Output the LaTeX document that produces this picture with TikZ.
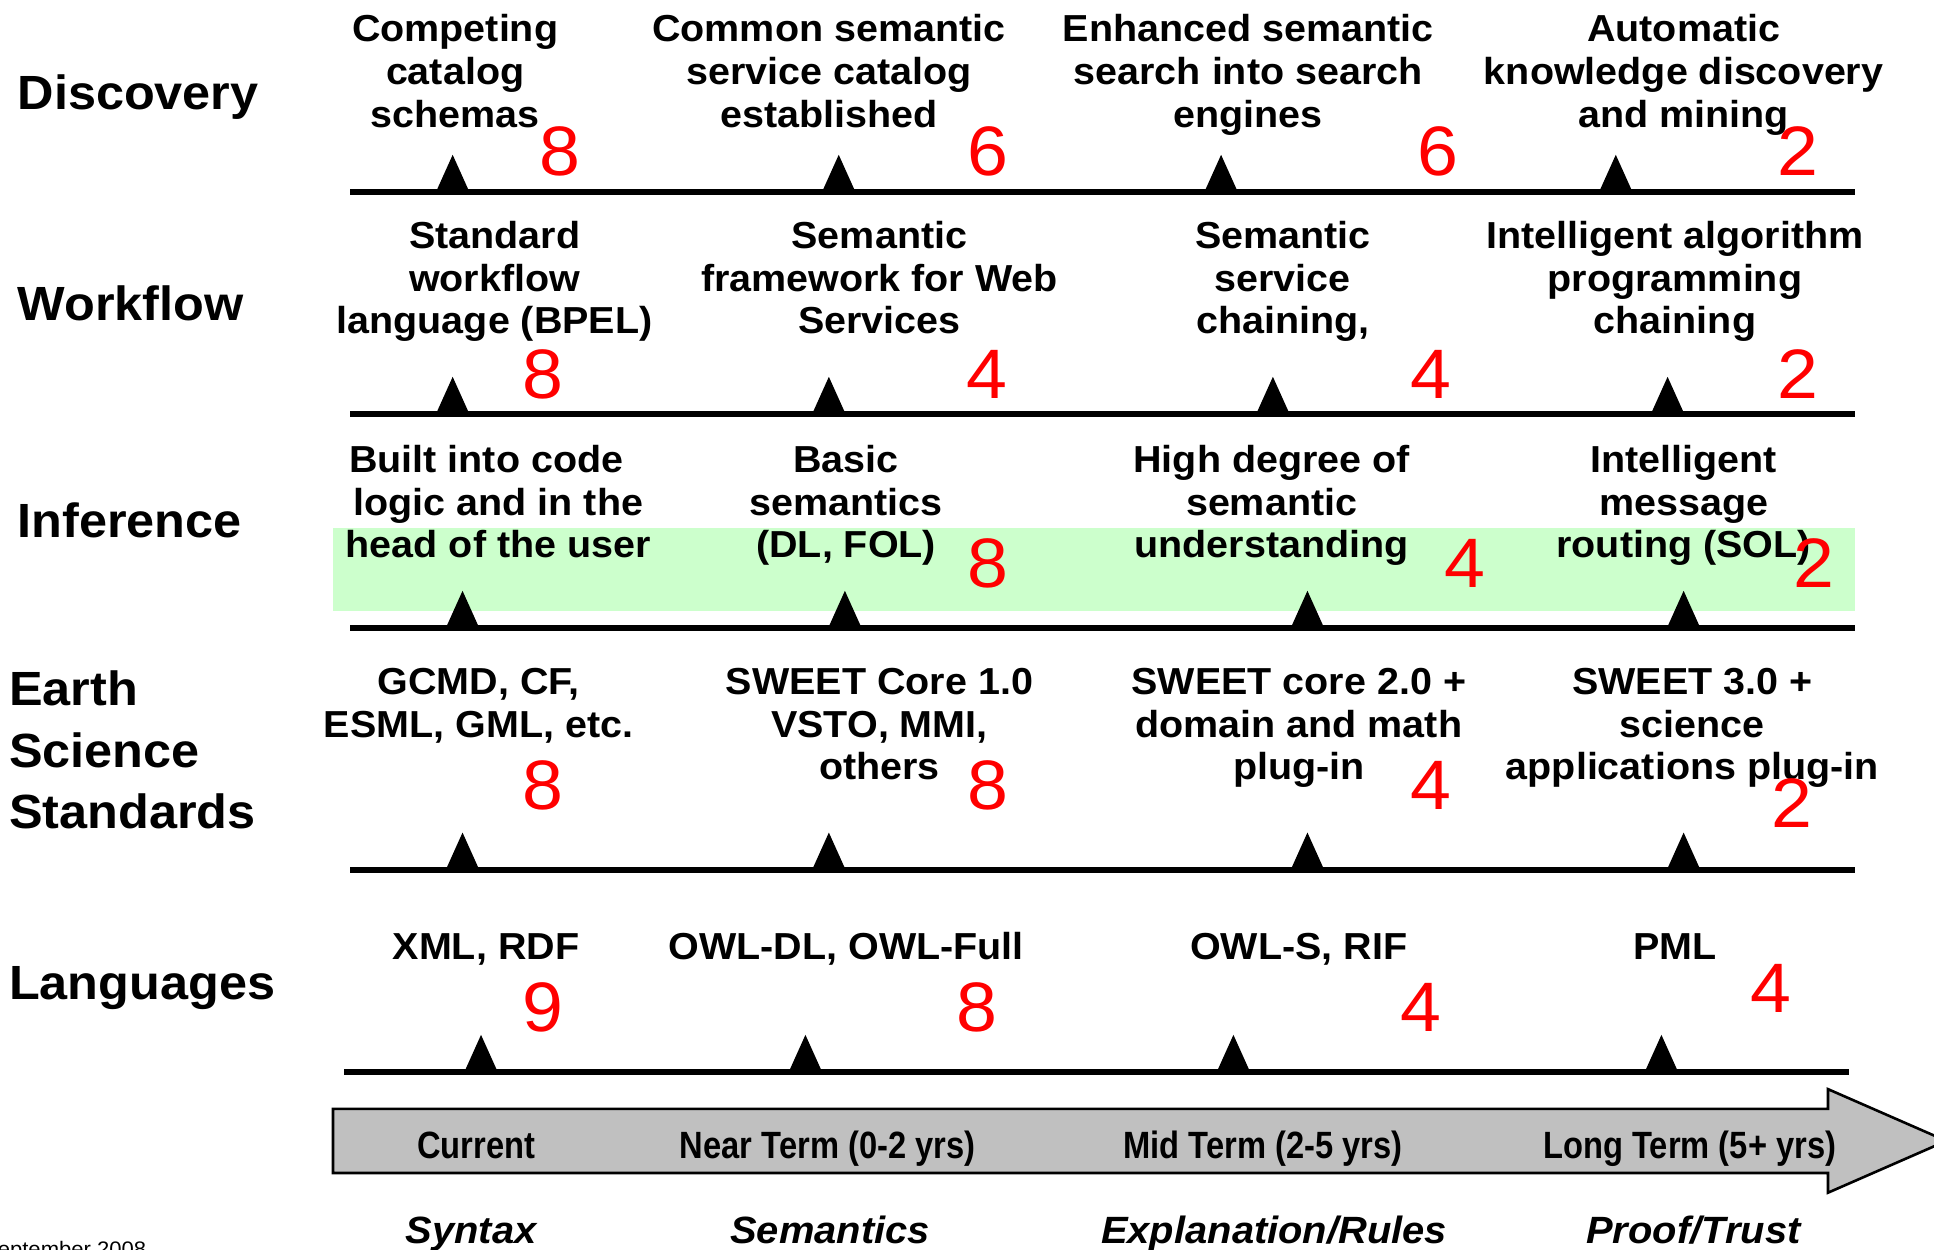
\documentclass[tikz,border=0pt]{standalone}
\usepackage{fontspec}
\setmainfont{Liberation Sans}[FakeStretch=1.05]
\newfontfamily\narrowfont{Liberation Sans}[FakeStretch=0.86]
\definecolor{bandgreen}{HTML}{CCFFCC}
\definecolor{arrowgray}{HTML}{C0C0C0}
\definecolor{scorered}{HTML}{FF0000}
\newcommand{\stack}[1]{\begin{tabular}[t]{@{}c@{}}#1\end{tabular}}
\newcommand{\lstack}[1]{\begin{tabular}[t]{@{}l@{}}#1\end{tabular}}
\tikzset{
  rowlabel/.style={anchor=base west, inner sep=0pt, font=\fontsize{24}{30.8}\selectfont\bfseries},
  milestone/.style={anchor=base, inner sep=0pt, font=\fontsize{18.8}{21.3}\selectfont\bfseries},
  score/.style={anchor=base, inner sep=0pt, text=scorered, font=\fontsize{35}{40}\selectfont},
  termlabel/.style={anchor=base, inner sep=0pt, font=\narrowfont\fontsize{19}{22}\selectfont\bfseries},
  layerlabel/.style={anchor=base, inner sep=0pt, font=\fontsize{19}{22}\selectfont\bfseries\itshape},
  footer/.style={anchor=base west, inner sep=0pt, font=\fontsize{10.5}{12}\selectfont},
  track/.style={line width=3pt},
  timearrow/.style={fill=arrowgray, draw=black, line width=1.3pt, line join=miter},
}
\begin{document}
\begin{tikzpicture}[x=0.6167pt, y=-0.6167pt]
\useasboundingbox (0,0) rectangle (1568,1013);
\clip (0,0) rectangle (1568,1013);

% highlighted inference band
\fill[bandgreen] (270,428) rectangle (1504,495);

% row labels
\node[rowlabel] (lDisc) at (14,89) {Discovery};
\node[rowlabel] (lWork) at (14,260) {Workflow};
\node[rowlabel] (lInf)  at (14,436) {Inference};
\node[rowlabel] (lStd)  at (7,572) {\lstack{Earth\\Science\\Standards}};
\node[rowlabel] (lLang) at (7,810) {Languages};

% discovery milestones
\node[milestone] (d1) at (369,34)  {\stack{Competing\\catalog\\schemas}};
\node[milestone] (d2) at (672,34)  {\stack{Common semantic\\service catalog\\established}};
\node[milestone] (d3) at (1012,34) {\stack{Enhanced semantic\\search into search\\engines}};
\node[milestone] (d4) at (1365,34) {\stack{Automatic\\knowledge discovery\\and mining}};
\node[score] (ds1) at (454,142)  {8};
\node[score] (ds2) at (801,142)  {6};
\node[score] (ds3) at (1166,142) {6};
\node[score] (ds4) at (1458,142) {2};

% workflow milestones
\node[milestone] (w1) at (401,201.5)  {\stack{Standard\\workflow\\language (BPEL)}};
\node[milestone] (w2) at (713,201.5)  {\stack{Semantic\\framework for Web\\Services}};
\node[milestone] (w3) at (1040,201.5) {\stack{Semantic\\service\\chaining,}};
\node[milestone] (w4) at (1358,201.5) {\stack{Intelligent algorithm\\programming\\chaining}};
\node[score] (ws1) at (440,323)  {8};
\node[score] (ws2) at (800,323)  {4};
\node[score] (ws3) at (1160,323) {4};
\node[score] (ws4) at (1458,323) {2};

% inference milestones
\node[milestone] (i1) at (404,383)  {\stack{Built into code\hspace*{12pt}\\logic and in the\\head of the user}};
\node[milestone] (i2) at (686,383)  {\stack{Basic\\semantics\\(DL, FOL)}};
\node[milestone] (i3) at (1031,383) {\stack{High degree of\\semantic\\understanding}};
\node[milestone] (i4) at (1365,383) {\stack{Intelligent\\message\\routing (SOL)}};
\node[score] (is2) at (801,476)  {8};
\node[score] (is3) at (1188,476) {4};
\node[score] (is4) at (1471,476) {2};

% earth science standards milestones
\node[milestone] (s1) at (388,563)  {\stack{GCMD, CF,\\ESML, GML, etc.}};
\node[milestone] (s2) at (713,563)  {\stack{SWEET Core 1.0\\VSTO, MMI,\\others}};
\node[milestone] (s3) at (1053,563) {\stack{SWEET core 2.0 +\\domain and math\\plug-in}};
\node[milestone] (s4) at (1372,563) {\stack{SWEET 3.0 +\\science\\applications plug-in}};
\node[score] (ss1) at (440,656)  {8};
\node[score] (ss2) at (801,656)  {8};
\node[score] (ss3) at (1160,656) {4};
\node[score] (ss4) at (1453,671) {2};

% language milestones
\node[milestone] (g1) at (394,778)  {XML, RDF};
\node[milestone] (g2) at (686,778)  {OWL-DL, OWL-Full};
\node[milestone] (g3) at (1053,778) {OWL-S, RIF};
\node[milestone] (g4) at (1358,778) {PML};
\node[score] (gs1) at (440,836)  {9};
\node[score] (gs2) at (792,836)  {8};
\node[score] (gs3) at (1152,836) {4};
\node[score] (gs4) at (1436,821) {4};

% timelines with their milestone markers
\foreach \ly/\xa/\xb/\marks in {155.5/284/1504/{367,680,990,1310},
                                 335.5/284/1504/{367,672,1032,1352},
                                 509/284/1504/{375,685,1060,1365},
                                 705/284/1504/{375,672,1060,1365},
                                 869/279/1499/{390,653,1000,1347}}{
  \draw[track] (\xa,\ly) -- (\xb,\ly);
  \foreach \mx in \marks
    \fill (\mx-13.5,\ly) -- (\mx,\ly-30) -- (\mx+13.5,\ly) -- cycle;
}

% time axis arrow
\draw[timearrow] (270,899) -- (1482,899) -- (1482,883) -- (1578,925)
  -- (1482,967) -- (1482,951) -- (270,951) -- cycle;
\node[termlabel] (t1) at (386,939)  {Current};
\node[termlabel] (t2) at (671,939)  {Near Term (0-2 yrs)};
\node[termlabel] (t3) at (1024,939) {Mid Term (2-5 yrs)};
\node[termlabel] (t4) at (1370,939) {Long Term (5+ yrs)};

% semantic web layers
\node[layerlabel] (y1) at (382,1008)  {Syntax};
\node[layerlabel] (y2) at (673,1008)  {Semantics};
\node[layerlabel] (y3) at (1033,1008) {Explanation/Rules};
\node[layerlabel] (y4) at (1373,1008) {Proof/Trust};

\node[footer] (date) at (-14,1019) {September 2008};
\end{tikzpicture}
\end{document}
